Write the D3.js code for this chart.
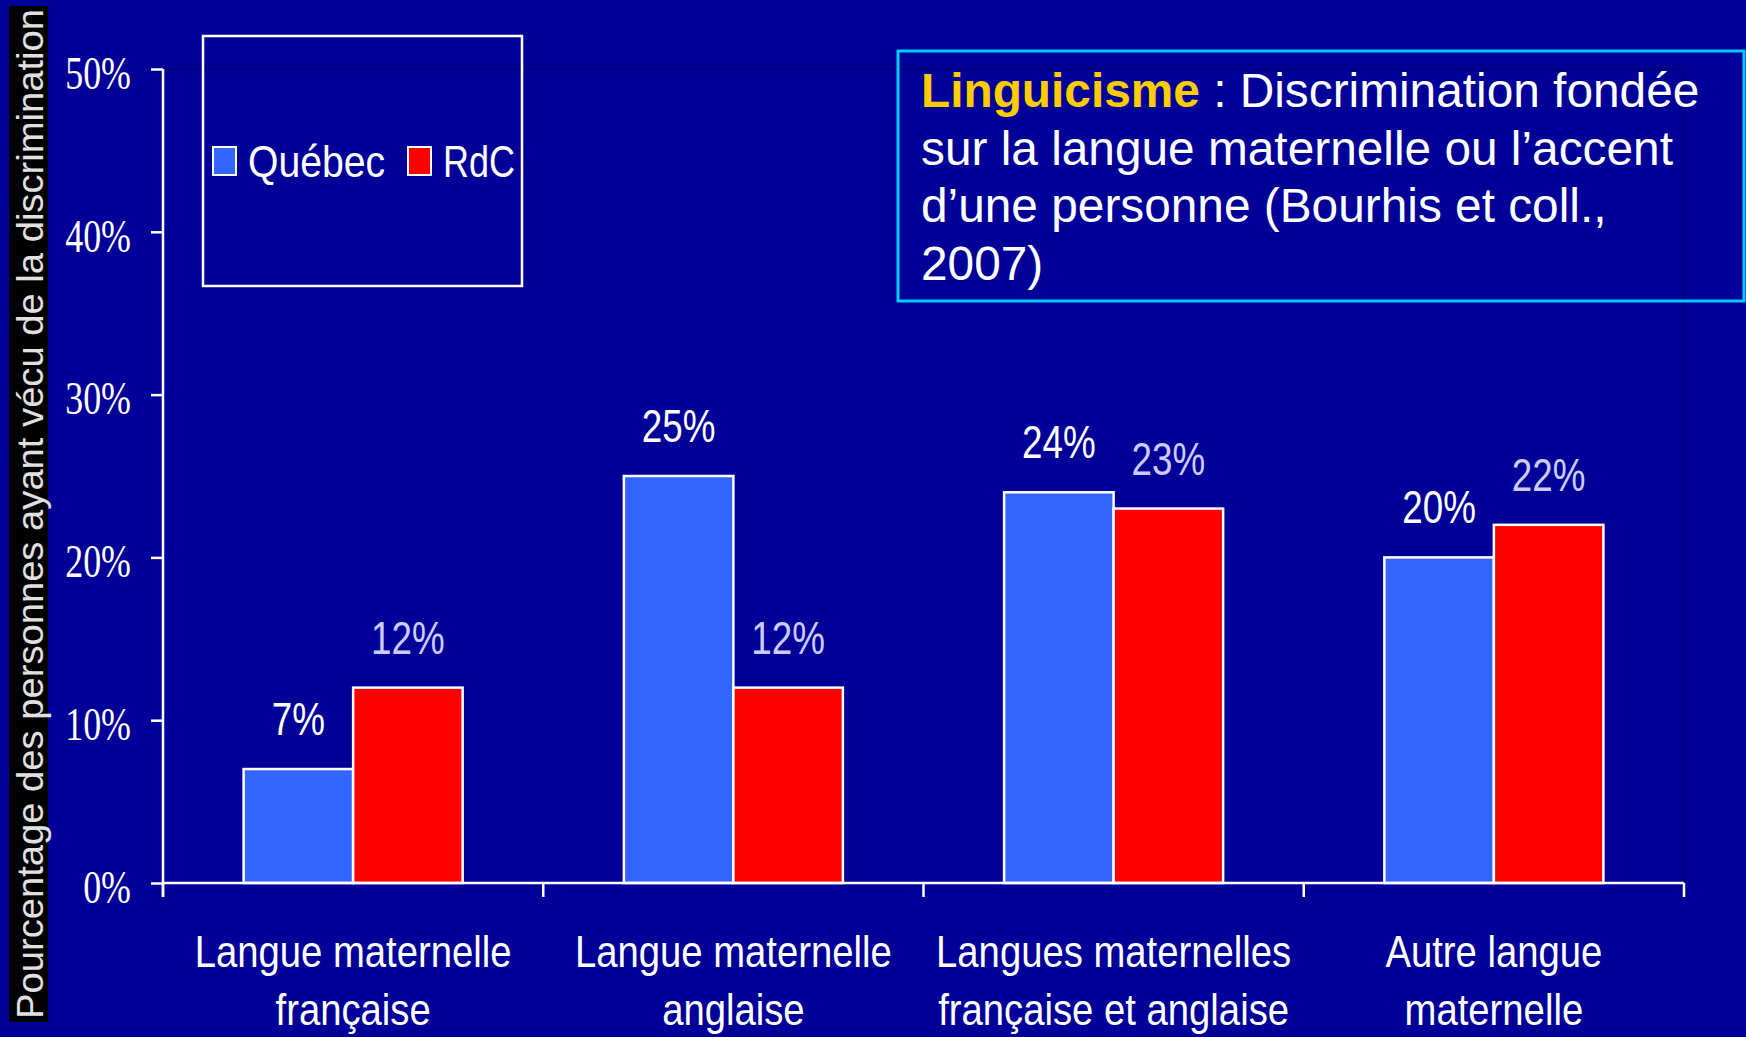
<!DOCTYPE html>
<meta charset="utf-8">
<style>
    body {
        margin: 0;
        background: #000099;
    }
    svg text {
        font-family: "Liberation Sans", Arial, sans-serif;
    }
    svg text.serif {
        font-family: "Liberation Serif", "Times New Roman", serif;
    }
</style>
<body>
<script src="https://d3js.org/d3.v7.min.js"></script>
<script>
    // data
    var categories = [
        ["Langue maternelle", "française"],
        ["Langue maternelle", "anglaise"],
        ["Langues maternelles", "française et anglaise"],
        ["Autre langue", "maternelle"]
    ];
    var seriesNames = ["Québec", "RdC"];
    var quebec = [0.07, 0.25, 0.24, 0.20];
    var rdc = [0.12, 0.12, 0.23, 0.22];
    var yTicks = [0, 0.1, 0.2, 0.3, 0.4, 0.5];
    var yTitle = "Pourcentage des personnes ayant vécu de la discrimination";
    var noteTitle = "Linguicisme";
    var noteLines = [" : Discrimination fondée", "sur la langue maternelle ou l’accent", "d’une personne (Bourhis et coll.,", "2007)"];

    var colors = {"Québec": "#3366ff", "RdC": "#ff0000"};
    var labelColors = {"Québec": "#ffffff", "RdC": "#ccccff"};

    var width = 1746, height = 1037;
    var plot = {left: 163, right: 1684, top: 69, bottom: 883};

    var svg = d3.select("body").append("svg")
        .attr("width", width)
        .attr("height", height)
        .style("display", "block");

    svg.append("rect")
        .attr("width", width)
        .attr("height", height)
        .attr("fill", "#000099");

    // squeeze text horizontally (the slide text is condensed)
    function squeeze(sel, k) {
        sel.each(function() {
            var w = this.getComputedTextLength();
            d3.select(this)
                .attr("textLength", w * k)
                .attr("lengthAdjust", "spacingAndGlyphs");
        });
    }

    var x0 = d3.scaleBand()
        .domain(d3.range(categories.length))
        .range([plot.left, plot.right])
        .paddingInner(0.424)
        .paddingOuter(0.212);

    var x1 = d3.scaleBand()
        .domain(seriesNames)
        .range([0, x0.bandwidth()]);

    var y = d3.scaleLinear()
        .domain([0, 0.5])
        .range([plot.bottom, plot.top]);

    // plot area border (top / right), a darker navy
    svg.append("path")
        .attr("d", "M" + plot.left + "," + y(0.5) + "H" + plot.right + "V" + y(0))
        .attr("fill", "none")
        .attr("stroke", "#000077")
        .attr("stroke-width", 2);

    var data = categories.map(function(c, i) {
        return {i: i, values: [
            {name: "Québec", v: quebec[i]},
            {name: "RdC", v: rdc[i]}
        ]};
    });

    var groups = svg.selectAll(".grp")
        .data(data)
        .enter().append("g")
        .attr("class", "grp")
        .attr("transform", function(d) { return "translate(" + x0(d.i) + ",0)"; });

    groups.selectAll("rect")
        .data(function(d) { return d.values; })
        .enter().append("rect")
        .attr("x", function(d) { return x1(d.name); })
        .attr("y", function(d) { return y(d.v); })
        .attr("width", x1.bandwidth())
        .attr("height", function(d) { return y(0) - y(d.v); })
        .attr("fill", function(d) { return colors[d.name]; })
        .attr("stroke", "#ffffff")
        .attr("stroke-width", 2.5);

    var valueLabels = groups.selectAll(".val")
        .data(function(d) { return d.values; })
        .enter().append("text")
        .attr("class", "val")
        .attr("x", function(d) { return x1(d.name) + x1.bandwidth() / 2; })
        .attr("y", function(d) { return y(d.v) - 34; })
        .attr("text-anchor", "middle")
        .attr("fill", function(d) { return labelColors[d.name]; })
        .style("font-size", "46px")
        .text(function(d) { return d3.format(".0%")(d.v); });
    squeeze(valueLabels, 0.8);

    // y axis
    var yAxis = d3.axisLeft(y)
        .tickValues(yTicks)
        .tickSize(12)
        .tickPadding(20)
        .tickFormat(d3.format(".0%"));

    var gy = svg.append("g")
        .attr("transform", "translate(" + plot.left + ",0)")
        .call(yAxis);
    gy.select(".domain").remove();
    gy.append("line")
        .attr("y1", y(0.5))
        .attr("y2", y(0) + 14)
        .attr("stroke", "#fff")
        .attr("stroke-width", 2.5);
    gy.selectAll(".tick line").attr("stroke", "#fff").attr("stroke-width", 2.5);
    gy.selectAll(".tick text")
        .attr("class", "serif")
        .attr("fill", "#fff")
        .attr("dy", "0.42em")
        .style("font-size", "46px");
    squeeze(gy.selectAll(".tick text"), 0.78);

    // x axis with ticks between categories
    var step = x0.step();
    var xBounds = d3.range(categories.length + 1).map(function(i) { return plot.left + i * step; });
    svg.append("line")
        .attr("x1", plot.left)
        .attr("x2", plot.right)
        .attr("y1", y(0))
        .attr("y2", y(0))
        .attr("stroke", "#fff")
        .attr("stroke-width", 2.5);
    svg.selectAll(".xtick")
        .data(xBounds)
        .enter().append("line")
        .attr("x1", function(d) { return d; })
        .attr("x2", function(d) { return d; })
        .attr("y1", y(0))
        .attr("y2", y(0) + 14)
        .attr("stroke", "#fff")
        .attr("stroke-width", 2.5);

    var catLabels = svg.selectAll(".cat")
        .data(data)
        .enter().append("text")
        .attr("class", "cat")
        .attr("x", function(d) { return x0(d.i) + x0.bandwidth() / 2; })
        .attr("y", 967)
        .attr("text-anchor", "middle")
        .attr("fill", "#fff")
        .style("font-size", "45px");
    catLabels.each(function(d) {
        var t = d3.select(this);
        var cx = x0(d.i) + x0.bandwidth() / 2;
        categories[d.i].forEach(function(line, j) {
            t.append("tspan")
                .attr("x", cx)
                .attr("dy", j === 0 ? 0 : 58)
                .text(line);
        });
    });
    catLabels.selectAll("tspan").each(function() {
        var w = this.getComputedTextLength();
        d3.select(this).attr("textLength", w * 0.85).attr("lengthAdjust", "spacingAndGlyphs");
    });

    // y axis title on black strip
    svg.append("rect")
        .attr("x", 9)
        .attr("y", 6)
        .attr("width", 39)
        .attr("height", 1016)
        .attr("fill", "#000000");
    svg.append("text")
        .attr("transform", "translate(43,514) rotate(-90)")
        .attr("text-anchor", "middle")
        .attr("fill", "#e0e0e0")
        .attr("textLength", 1010)
        .attr("lengthAdjust", "spacingAndGlyphs")
        .style("font-size", "37px")
        .text(yTitle);

    // legend
    var legend = svg.append("g");
    legend.append("rect")
        .attr("x", 203)
        .attr("y", 36)
        .attr("width", 319)
        .attr("height", 250)
        .attr("fill", "none")
        .attr("stroke", "#fff")
        .attr("stroke-width", 2.5);
    var legendX = {"Québec": 213, "RdC": 408};
    seriesNames.forEach(function(s) {
        legend.append("rect")
            .attr("x", legendX[s])
            .attr("y", 147)
            .attr("width", 23)
            .attr("height", 28)
            .attr("fill", colors[s])
            .attr("stroke", "#fff")
            .attr("stroke-width", 2);
        var t = legend.append("text")
            .attr("x", legendX[s] + 35)
            .attr("y", 177)
            .attr("fill", "#fff")
            .style("font-size", "45px")
            .text(s);
        squeeze(t, s === "RdC" ? 0.8 : 0.87);
    });

    // definition box
    var note = svg.append("g");
    note.append("rect")
        .attr("x", 898)
        .attr("y", 51)
        .attr("width", 846)
        .attr("height", 250)
        .attr("fill", "none")
        .attr("stroke", "#00ccff")
        .attr("stroke-width", 3);
    var first = note.append("text")
        .attr("x", 921)
        .attr("y", 107)
        .attr("fill", "#fff")
        .style("font-size", "47.8px");
    first.append("tspan")
        .attr("fill", "#ffcc00")
        .style("font-weight", "bold")
        .text(noteTitle);
    first.append("tspan").text(noteLines[0]);
    noteLines.slice(1).forEach(function(line, j) {
        note.append("text")
            .attr("x", 921)
            .attr("y", 107 + (j + 1) * 57.7)
            .attr("fill", "#fff")
            .style("font-size", "47.8px")
            .text(line);
    });
</script>
